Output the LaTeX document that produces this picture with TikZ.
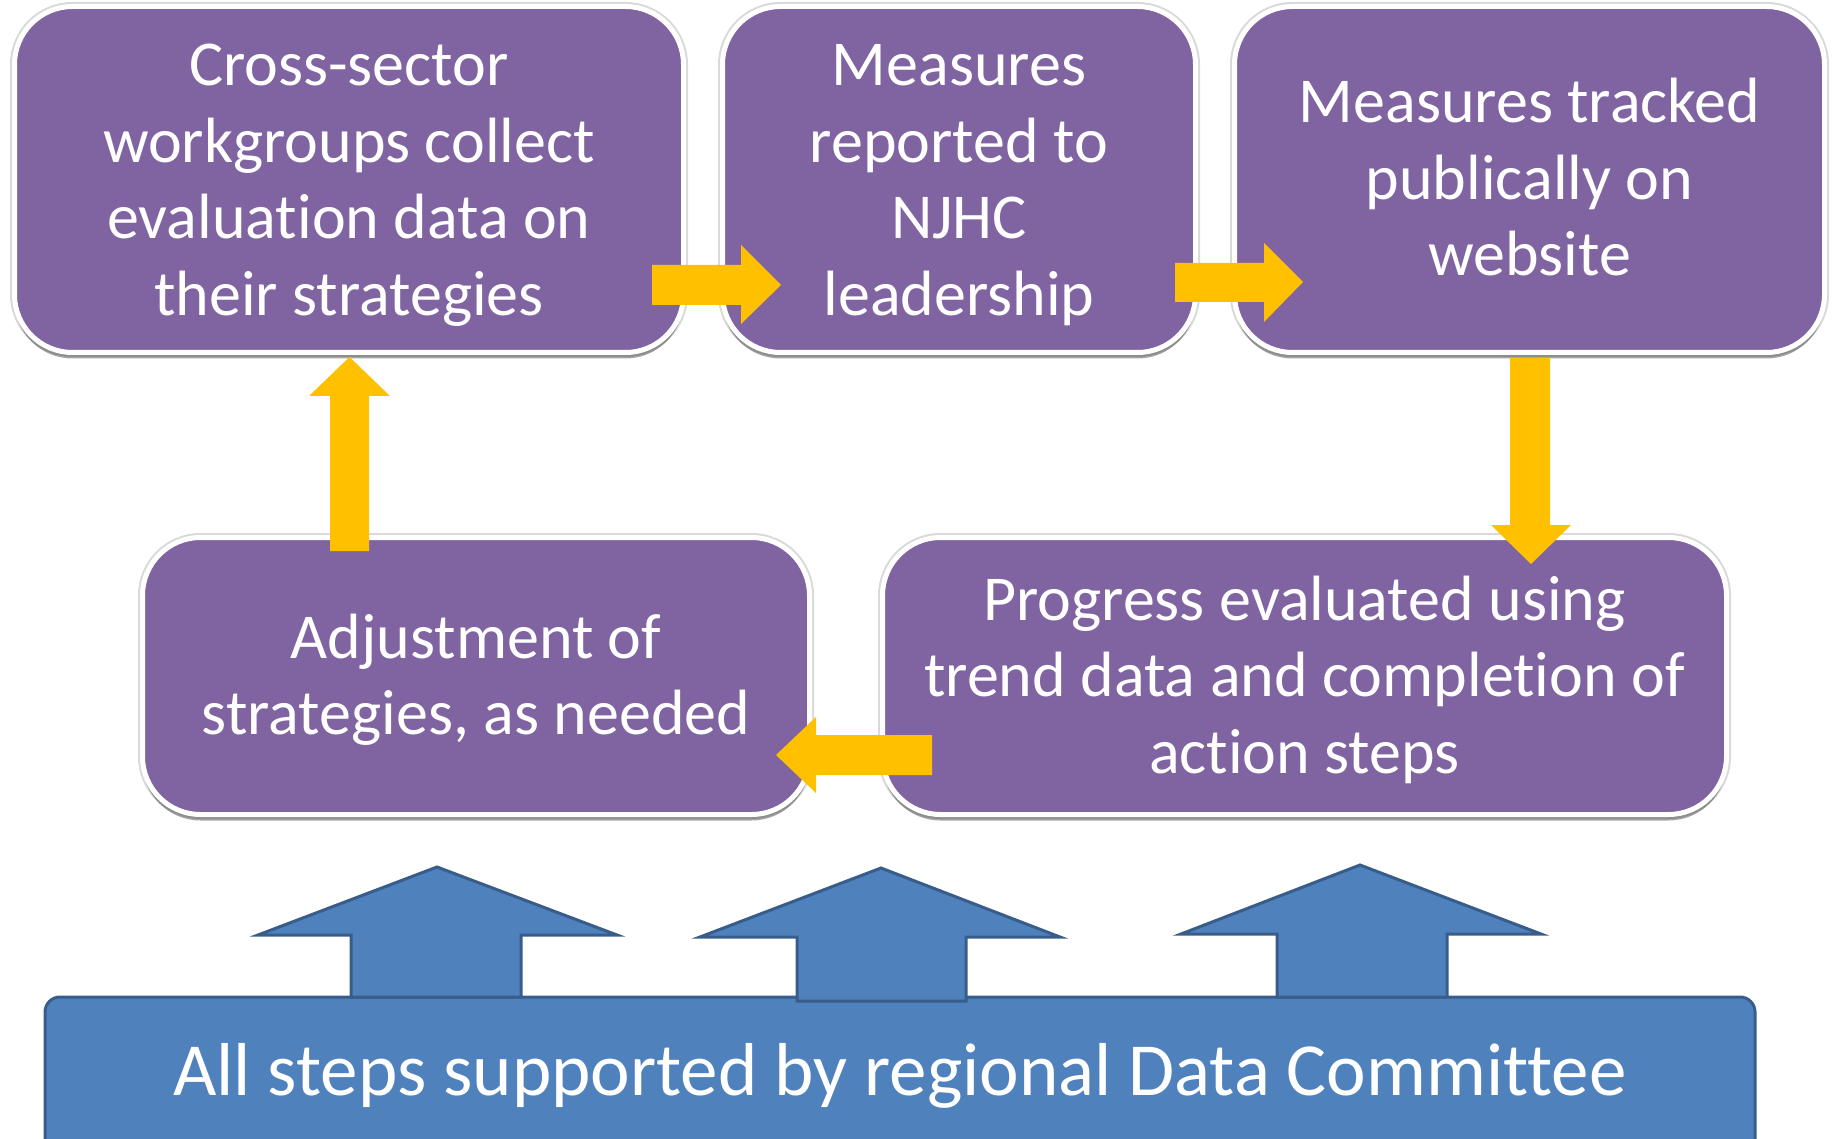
\documentclass[tikz,border=0pt]{standalone}
\usepackage{fontspec}
\setmainfont{Carlito}[Ligatures={NoCommon,NoContextual,NoRequired},RawFeature={-calt;-dlig}]
\usetikzlibrary{shadows}
\definecolor{boxpurple}{HTML}{8064A2}
\definecolor{flowyellow}{HTML}{FFC000}
\definecolor{supblue}{HTML}{4F81BD}
\definecolor{supedge}{HTML}{385D8A}
\newcommand{\steplines}[1]{\begin{tabular}[t]{@{}c@{}}#1\end{tabular}}
\begin{document}
\begin{tikzpicture}[x=1pt,y=-1pt,
  stepbox/.style={rectangle, rounded corners=58pt, fill=boxpurple, draw=white,
    line width=5pt, inner sep=0pt,
    preaction={draw=black!15, line width=9pt},
    drop shadow={shadow xshift=0pt, shadow yshift=-6pt, opacity=0.35, fill=black}},
  steptext/.style={text=white, inner sep=0pt, anchor=base,
    font=\fontsize{64}{76.5}\selectfont},
  flowarrow/.style={fill=flowyellow, draw=none},
  suparrow/.style={fill=supblue, draw=supedge, line width=3pt, line join=miter},
  barbox/.style={rectangle, rounded corners=15pt, fill=supblue, draw=supedge, line width=3pt}]
\useasboundingbox (0,0) rectangle (1837,1139);

% purple step boxes
\node[stepbox, minimum width=669pt, minimum height=346pt] (collect) at (349,179.5) {};
\node[stepbox, minimum width=473pt, minimum height=346pt] (report) at (959,179.5) {};
\node[stepbox, minimum width=590pt, minimum height=346pt] (track) at (1529.5,179.5) {};
\node[stepbox, minimum width=667pt, minimum height=277pt] (adjust) at (476,676) {};
\node[stepbox, minimum width=844pt, minimum height=277pt] (progress) at (1304.5,676) {};

% box texts (first baseline positions)
\node[steptext] (collecttext) at (collect.center |- 0,86)
  {\steplines{Cross-sector\\workgroups collect\\evaluation data on\\their strategies}};
\node[steptext] (reporttext) at (report.center |- 0,86)
  {\steplines{Measures\\reported to\\NJHC\\leadership}};
\node[steptext] (tracktext) at (track.center |- 0,123)
  {\steplines{Measures tracked\\publically on\\website}};
\node[steptext] (adjusttext) at (adjust.center |- 0,658)
  {\steplines{Adjustment of\\strategies, as needed}};
\node[steptext] (progresstext) at (progress.center |- 0,620)
  {\steplines{Progress evaluated using\\trend data and completion of\\action steps}};

% yellow flow arrows
\fill[flowarrow] (652,265) -- (741,265) -- (741,245) -- (781,285) -- (741,324) -- (741,305) -- (652,305) -- cycle;
\fill[flowarrow] (1175,263) -- (1264,263) -- (1264,243) -- (1303,282) -- (1264,322) -- (1264,302) -- (1175,302) -- cycle;
\fill[flowarrow] (1510,358) -- (1550,358) -- (1550,525) -- (1571,525) -- (1531,564) -- (1491,525) -- (1510,525) -- cycle;
\fill[flowarrow] (932,735) -- (932,775) -- (816,775) -- (816,793) -- (776,755) -- (816,717) -- (816,735) -- cycle;
\fill[flowarrow] (330,551) -- (330,396) -- (309,396) -- (349.5,357) -- (390,396) -- (369,396) -- (369,551) -- cycle;

% support bar
\node[barbox, minimum width=1710pt, minimum height=180pt] (bar) at (900,1087) {};
\node[text=white, font=\fontsize{75}{90}\selectfont, anchor=base, inner sep=0pt] (bartext) at (900,1095)
  {All steps supported by regional Data Committee};

% blue support arrows
\filldraw[suparrow] (351,997) -- (351,935) -- (258,935) -- (437,867) -- (617,935) -- (521,935) -- (521,997) -- cycle;
\filldraw[suparrow] (797,1001) -- (797,937) -- (700,937) -- (881,868) -- (1060,937) -- (966,937) -- (966,1001) -- cycle;
\filldraw[suparrow] (1277,997) -- (1277,934) -- (1181,934) -- (1360,865) -- (1541,934) -- (1447,934) -- (1447,997) -- cycle;
\end{tikzpicture}
\end{document}
